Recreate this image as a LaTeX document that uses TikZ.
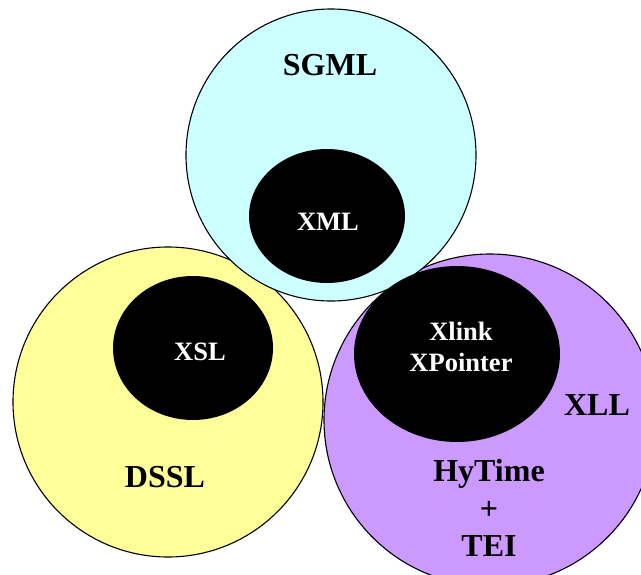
\documentclass[tikz,border=0pt]{standalone}
\usepackage{fontspec}
\setmainfont{Liberation Serif}
\newcommand{\bubble}[3]% center, xdim, ydim
{(#1) ellipse (#2 and #3)
}
\usetikzlibrary{positioning}
\definecolor{sgmlcyan}{HTML}{CCFFFF}
\definecolor{dsslyellow}{HTML}{FFFF99}
\definecolor{xllpurple}{HTML}{CC99FF}
\tikzset{
	ring/.style={draw=black, line width=1.1pt},
	core/.style={fill=black},
	outerlbl/.style={font=\bfseries\fontsize{32}{37.5}\selectfont, align=center, inner sep=0pt},
	innerlbl/.style={font=\bfseries\fontsize{26.5}{31}\selectfont, text=white, align=center, inner sep=0pt}
}

\begin{document}
\begin{tikzpicture}[x=1pt,y=-1pt]
	\useasboundingbox (0,0) rectangle (641,574);
	% outer circles
	\filldraw[ring, fill=dsslyellow] \bubble{168,402}{155pt}{155pt};
	\filldraw[ring, fill=xllpurple] \bubble{490,420}{166pt}{166pt};
	\filldraw[ring, fill=sgmlcyan] \bubble{331,155}{145pt}{146pt};
	% black cores
	\fill[core] \bubble{327,216}{78pt}{67pt};
	\fill[core] \bubble{193,348}{80pt}{72pt};
	\fill[core] \bubble{457,354}{103pt}{88pt};
	% labels
	\node[outerlbl] (sgml) at (330,65) {SGML};
	\node[innerlbl] (xml) at (328,222) {XML};
	\node[innerlbl] (xsl) at (200,352) {XSL};
	\node[outerlbl] (dssl) at (165,477) {DSSL};
	\node[innerlbl] (xlink) at (461,347) {Xlink\\XPointer};
	\node[outerlbl] (xll) at (597,405) {XLL};
	\node[outerlbl] (hytime) at (489,508) {HyTime\\+\\TEI};
\end{tikzpicture}
\end{document}
